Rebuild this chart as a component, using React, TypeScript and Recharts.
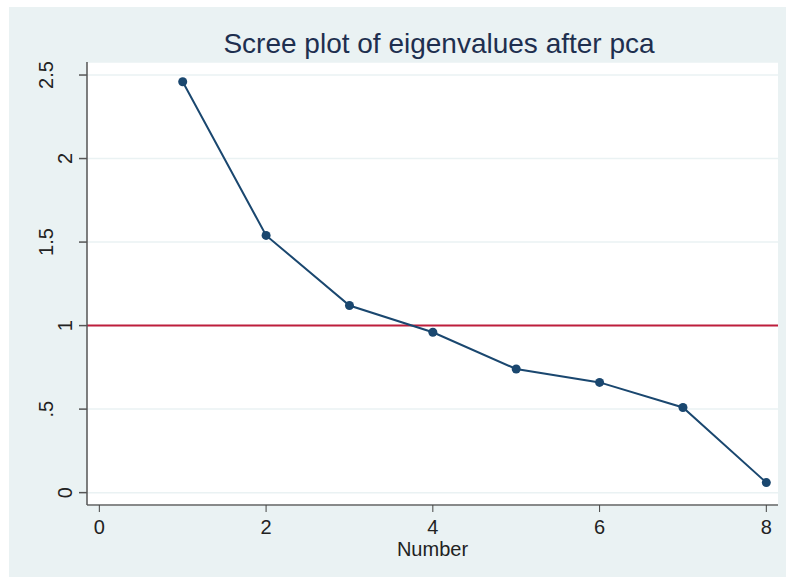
import { LineChart, Line, XAxis, YAxis, CartesianGrid, ReferenceLine } from 'recharts';

const components = [1, 2, 3, 4, 5, 6, 7, 8];
const eigenvalues = [2.46, 1.54, 1.12, 0.96, 0.74, 0.66, 0.51, 0.06];
const xTicks = [0, 2, 4, 6, 8];
const yTicks = [0, 0.5, 1, 1.5, 2, 2.5];
const cutoff = 1;

const FONT = '"Liberation Sans", Arial, Helvetica, sans-serif';
const NAVY = '#1a476f';

// Stata style y labels: ".5" not "0.5"
const fmtY = (v: number) => (v === 0 ? '0' : String(v).replace(/^0\./, '.'));

function YTick(props: any) {
  const { y, payload } = props;
  const label = fmtY(payload.value);
  // rotated labels, shorter strings sit closer to the axis
  const bx = label.length === 1 ? 63 : 44;
  return (
    <text
      x={bx}
      y={y}
      transform={`rotate(-90, ${bx}, ${y})`}
      textAnchor="middle"
      fontSize={20}
      fontFamily={FONT}
      fill="#222"
    >
      {label}
    </text>
  );
}

function XTick(props: any) {
  const { x, y, payload } = props;
  return (
    <text x={x} y={y + 22} textAnchor="middle" fontSize={20} fontFamily={FONT} fill="#222">
      {payload.value}
    </text>
  );
}

function XLabel(props: any) {
  const { viewBox } = props;
  return (
    <text
      x={viewBox.x + viewBox.width / 2}
      y={viewBox.y + 51}
      textAnchor="middle"
      fontSize={20}
      fontFamily={FONT}
      fill="#222"
    >
      Number
    </text>
  );
}

export default function App() {
  const chartData = components.map((n, i) => ({ n, value: eigenvalues[i] }));

  return (
    <div style={{ position: 'absolute', left: 9, top: 7, width: 777, height: 570, background: '#eaf2f3' }}>
      <LineChart
        width={777}
        height={570}
        data={chartData}
        margin={{ top: 55, right: 8, left: 0, bottom: 0 }}
      >
        <CartesianGrid vertical={false} fill="#ffffff" stroke="#eaf2f3" strokeWidth={1.5} />
        <XAxis
          dataKey="n"
          type="number"
          domain={[-0.148, 8.14]}
          ticks={xTicks}
          allowDataOverflow
          height={72}
          tickSize={7}
          tickMargin={0}
          tick={<XTick />}
          axisLine={{ stroke: '#666', strokeWidth: 1.5 }}
          tickLine={{ stroke: '#444' }}
          label={<XLabel />}
        />
        <YAxis
          type="number"
          domain={[-0.074, 2.578]}
          ticks={yTicks}
          allowDataOverflow
          width={78}
          tickSize={8}
          tickMargin={0}
          tick={<YTick />}
          axisLine={{ stroke: '#555', strokeWidth: 1.5 }}
          tickLine={{ stroke: '#555', strokeWidth: 1.5 }}
        />
        <ReferenceLine y={cutoff} stroke="#be1e3c" strokeWidth={2} />
        <Line
          type="linear"
          dataKey="value"
          stroke={NAVY}
          strokeWidth={2}
          dot={{ r: 4.5, fill: NAVY, stroke: NAVY, strokeWidth: 0 }}
          activeDot={false}
          isAnimationActive={false}
        />
      </LineChart>
      <svg width={777} height={60} style={{ position: 'absolute', left: 0, top: 0 }}>
        <text x={430} y={46} textAnchor="middle" fontSize={28} fontFamily={FONT} fill="#1e2f4f">
          Scree plot of eigenvalues after pca
        </text>
      </svg>
    </div>
  );
}
